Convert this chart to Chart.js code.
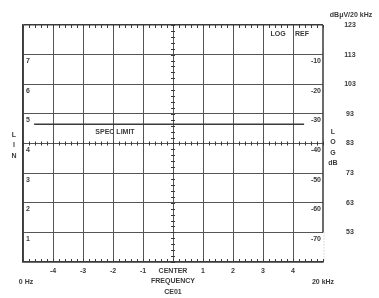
<!DOCTYPE html>
<html>
<head>
<meta charset="utf-8">
<script src="https://cdn.jsdelivr.net/npm/chart.js@4"></script>
<style>
  html, body { margin: 0; padding: 0; background: #fff; }
  #wrap { width: 379px; height: 298px; }
</style>
</head>
<body>
<div id="wrap"><canvas id="graticule" width="379" height="298"></canvas></div>
<script>
// graticule: 10 horizontal divisions around center, 8 vertical
const xDivs = [-4, -3, -2, -1, 0, 1, 2, 3, 4];
const xLabels = ['-4', '-3', '-2', '-1', 'CENTER', '1', '2', '3', '4'];
const linLevels = [1, 2, 3, 4, 5, 6, 7];
const linLabels = ['1', '2', '3', '4', '5', '6', '7'];
const logLevels = [7, 6, 5, 4, 3, 2, 1];
const logLabels = ['-10', '-20', '-30', '-40', '-50', '-60', '-70'];
const refLevels = [8, 7, 6, 5, 4, 3, 2, 1];
const refLabels = ['123', '113', '103', '93', '83', '73', '63', '53'];

// spec limit line
const specX = [-4.63, 4.37];
const specY = [4.65, 4.65];

const INK = '#3a3a3a';
const GRID = '#555';
const FONT = 'bold 7px "Liberation Sans", Arial, sans-serif';

const graticulePlugin = {
  id: 'graticule',
  afterDraw(chart) {
    const { ctx, chartArea: a, scales: { x, y } } = chart;
    ctx.save();

    // right border only reaches down to level 1, then a faint dotted edge
    ctx.strokeStyle = INK;
    ctx.lineWidth = 1.5;
    ctx.beginPath();
    ctx.moveTo(x.getPixelForValue(5), a.top);
    ctx.lineTo(x.getPixelForValue(5), y.getPixelForValue(1));
    ctx.stroke();
    ctx.strokeStyle = '#bbb';
    ctx.lineWidth = 1;
    ctx.setLineDash([1, 2]);
    ctx.beginPath();
    ctx.moveTo(x.getPixelForValue(5) + 1, y.getPixelForValue(1));
    ctx.lineTo(x.getPixelForValue(5) + 1, a.bottom);
    ctx.stroke();
    ctx.setLineDash([]);

    // minor ticks, 5 per division
    ctx.strokeStyle = INK;
    ctx.lineWidth = 1;
    ctx.beginPath();
    for (let v = -5; v <= 5.001; v += 0.2) {
      const px = Math.round(x.getPixelForValue(v)) + 0.5;
      ctx.moveTo(px, a.top); ctx.lineTo(px, a.top + 3);
      ctx.moveTo(px, a.bottom); ctx.lineTo(px, a.bottom - 3);
      const cy = y.getPixelForValue(4);
      ctx.moveTo(px, cy - 2); ctx.lineTo(px, cy + 2);
    }
    for (let v = 0; v <= 8.001; v += 0.2) {
      const py = Math.round(y.getPixelForValue(v)) + 0.5;
      const cx = x.getPixelForValue(0);
      ctx.moveTo(cx - 2, py); ctx.lineTo(cx + 2, py);
    }
    ctx.stroke();

    ctx.fillStyle = INK;
    ctx.font = FONT;

    // LIN levels, inside left edge just under each line
    ctx.textAlign = 'left';
    ctx.textBaseline = 'top';
    linLevels.forEach((lv, i) => {
      ctx.fillText(linLabels[i], a.left + 3, y.getPixelForValue(lv) + 3);
    });
    // LOG levels, inside right edge
    ctx.textAlign = 'right';
    logLevels.forEach((lv, i) => {
      ctx.fillText(logLabels[i], a.right - 2, y.getPixelForValue(lv) + 3);
    });

    // reference level column on the far right
    ctx.textAlign = 'center';
    ctx.textBaseline = 'middle';
    refLevels.forEach((lv, i) => {
      ctx.fillText(refLabels[i], 350, y.getPixelForValue(lv));
    });
    ctx.fillText('dBμV/20 kHz', 351, 15);

    // frequency labels
    xDivs.forEach((v, i) => {
      ctx.fillText(xLabels[i], x.getPixelForValue(v), a.bottom + 9);
    });
    ctx.fillText('FREQUENCY', x.getPixelForValue(0), a.bottom + 19);
    ctx.fillText('CE01', x.getPixelForValue(0), a.bottom + 30);
    ctx.fillText('0 Hz', 26, a.bottom + 20);
    ctx.fillText('20 kHz', 323, a.bottom + 20);

    // top right corner
    ctx.fillText('LOG', 278, 34);
    ctx.fillText('REF', 302, 34);

    // spec limit label
    ctx.fillText('SPEC LIMIT', 115, 132);

    // vertical axis words
    ['L', 'I', 'N'].forEach((c, i) => ctx.fillText(c, 14, [135, 145, 156][i]));
    ['L', 'O', 'G', 'dB'].forEach((c, i) => ctx.fillText(c, 333, [132, 142, 153, 163][i]));

    ctx.restore();
  }
};

new Chart(document.getElementById('graticule'), {
  type: 'line',
  data: {
    datasets: [{
      label: 'SPEC LIMIT',
      data: specX.map((v, i) => ({ x: v, y: specY[i] })),
      borderColor: INK,
      borderWidth: 1.5,
      pointRadius: 0,
      tension: 0
    }]
  },
  options: {
    responsive: false,
    animation: false,
    layout: { padding: { left: 23, right: 56, top: 25, bottom: 36 } },
    plugins: { legend: { display: false }, tooltip: { enabled: false } },
    scales: {
      x: {
        type: 'linear',
        min: -5, max: 5,
        ticks: { display: false, stepSize: 1 },
        grid: {
          drawTicks: false,
          lineWidth: 1,
          color: c => c.tick && c.tick.value === 5 ? 'rgba(0,0,0,0)' : GRID
        },
        border: { display: true, color: INK, width: 1.5 },
        afterFit: s => { s.height = 0; }
      },
      y: {
        type: 'linear',
        min: 0, max: 8,
        ticks: { display: false, stepSize: 1 },
        grid: {
          drawTicks: false,
          lineWidth: c => c.tick && (c.tick.value === 8 || c.tick.value === 0) ? 1.5 : 1,
          color: c => c.tick && (c.tick.value === 8 || c.tick.value === 0) ? INK : GRID
        },
        border: { display: true, color: INK, width: 1.5 },
        afterFit: s => { s.width = 0; }
      }
    }
  },
  plugins: [graticulePlugin]
});
</script>
</body>
</html>
